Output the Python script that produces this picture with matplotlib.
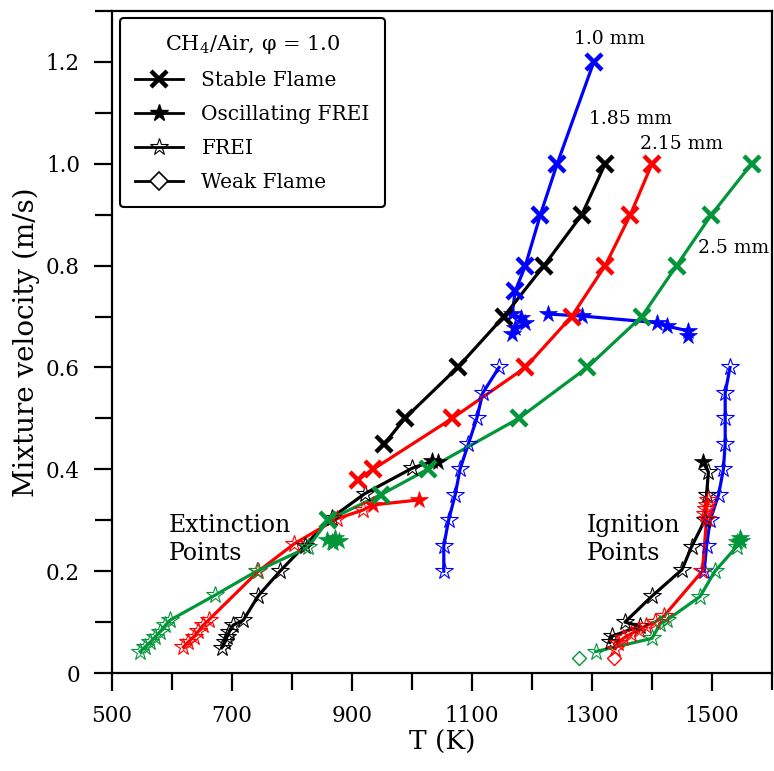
import matplotlib
matplotlib.use('Agg')
import matplotlib.pyplot as plt
from matplotlib.lines import Line2D
from matplotlib.ticker import MultipleLocator, FuncFormatter

plt.rcParams['font.family'] = ['DejaVu Serif']
plt.rcParams['mathtext.fontset'] = 'dejavuserif'

BLUE = '#0000ff'
BLACK = '#000000'
RED = '#ff0000'
GREEN = '#009639'

# ---- 1.0 mm (blue) ----
b_stable_T = [1303, 1242, 1214, 1189, 1172]
b_stable_v = [1.2, 1.0, 0.9, 0.8, 0.75]
b_osc_T = [1167, 1181, 1189, 1172, 1167]
b_osc_v = [0.705, 0.697, 0.687, 0.677, 0.665]
b_osc2_T = [1226, 1284, 1408, 1425, 1460, 1460]
b_osc2_v = [0.705, 0.701, 0.688, 0.681, 0.672, 0.662]
b_ext_T = [1145, 1118, 1108, 1094, 1080, 1072, 1061, 1053, 1053]
b_ext_v = [0.6, 0.55, 0.5, 0.45, 0.4, 0.35, 0.3, 0.25, 0.2]
b_ign_T = [1487, 1491, 1497, 1511, 1519, 1522, 1522, 1522, 1530]
b_ign_v = [0.2, 0.25, 0.3, 0.35, 0.4, 0.45, 0.5, 0.55, 0.6]

# ---- 1.85 mm (black) ----
k_stable_T = [1322, 1283, 1220, 1153, 1076, 988, 954]
k_stable_v = [1.0, 0.9, 0.8, 0.7, 0.6, 0.5, 0.45]
k_osc_T = [1043, 1034]
k_osc_v = [0.414, 0.416]
k_ext_T = [1000, 921, 866, 821, 780, 744, 719, 702, 695, 691, 688, 683]
k_ext_v = [0.402, 0.352, 0.305, 0.25, 0.2, 0.152, 0.104, 0.094, 0.08, 0.07, 0.06, 0.05]
k_iosc_T = [1485]
k_iosc_v = [0.414]
k_ign_T = [1494, 1491, 1488, 1466, 1450, 1400, 1355, 1380, 1333, 1330]
k_ign_v = [0.395, 0.35, 0.30, 0.248, 0.203, 0.151, 0.1, 0.092, 0.072, 0.06]

# ---- 2.15 mm (red) ----
r_stable_T = [1400, 1364, 1322, 1266, 1189, 1067, 935, 910]
r_stable_v = [1.0, 0.9, 0.8, 0.7, 0.6, 0.5, 0.4, 0.38]
r_osc_T = [1012, 935]
r_osc_v = [0.34, 0.33]
r_ext_T = [918, 875, 804, 744, 661, 652, 644, 636, 627, 619]
r_ext_v = [0.32, 0.303, 0.254, 0.2, 0.104, 0.094, 0.082, 0.071, 0.061, 0.051]
r_ign_T = [1494, 1492, 1490, 1489, 1491, 1484, 1420, 1405, 1390, 1378, 1365, 1352, 1343, 1339]
r_ign_v = [0.34, 0.33, 0.322, 0.313, 0.303, 0.2, 0.112, 0.1, 0.093, 0.085, 0.077, 0.068, 0.058, 0.048]
r_weak_T = [1336]
r_weak_v = [0.03]

# ---- 2.5 mm (green) ----
g_stable_T = [1566, 1499, 1441, 1383, 1292, 1178, 1026, 948, 860]
g_stable_v = [1.0, 0.9, 0.8, 0.7, 0.6, 0.5, 0.4, 0.35, 0.3]
g_ext_T = [827, 741, 672, 597, 589, 580, 572, 564, 555, 547]
g_ext_v = [0.247, 0.2, 0.153, 0.104, 0.094, 0.081, 0.071, 0.061, 0.051, 0.042]
g_osc_T = [858, 866, 872, 878, 868]
g_osc_v = [0.262, 0.258, 0.265, 0.26, 0.255]
g_iosc_T = [1546, 1542, 1548]
g_iosc_v = [0.265, 0.258, 0.26]
g_ign_T = [1541, 1505, 1480, 1425, 1414, 1400, 1306]
g_ign_v = [0.248, 0.2, 0.15, 0.104, 0.097, 0.068, 0.042]
g_weak_T = [1278]
g_weak_v = [0.03]

x_major = [500, 700, 900, 1100, 1300, 1500]

fig = plt.figure(figsize=(7.74, 7.71), dpi=100)
ax = fig.add_axes([0.1447, 0.1271, 0.8527, 0.8586])

LW = 2.3


def line(T, v, c):
    ax.plot(T, v, '-', color=c, lw=LW, zorder=2)


def stable(T, v, c):
    ax.plot(T, v, 'x', color=c, ms=11, mew=3.2, zorder=3)


def osc(T, v, c):
    ax.plot(T, v, '*', color=c, ms=13, mew=0.5, zorder=3)


def frei(T, v, c):
    ax.plot(T, v, '*', color=c, mfc='none', ms=13, mew=0.8, zorder=3)


def weak(T, v, c):
    ax.plot(T, v, 'D', color=c, mfc='none', ms=7, mew=1.0, zorder=3)


# blue
line(b_stable_T + b_osc_T, b_stable_v + b_osc_v, BLUE)
line(b_osc2_T, b_osc2_v, BLUE)
line(b_ext_T, b_ext_v, BLUE)
line(b_ign_T, b_ign_v, BLUE)
stable(b_stable_T, b_stable_v, BLUE)
osc(b_osc_T + b_osc2_T, b_osc_v + b_osc2_v, BLUE)
frei(b_ext_T, b_ext_v, BLUE)
frei(b_ign_T, b_ign_v, BLUE)

# black
line(k_stable_T, k_stable_v, BLACK)
line(k_osc_T + k_ext_T, k_osc_v + k_ext_v, BLACK)
line(k_iosc_T + k_ign_T, k_iosc_v + k_ign_v, BLACK)
stable(k_stable_T, k_stable_v, BLACK)
osc(k_osc_T, k_osc_v, BLACK)
frei(k_ext_T, k_ext_v, BLACK)
osc(k_iosc_T, k_iosc_v, BLACK)
frei(k_ign_T, k_ign_v, BLACK)

# red
line(r_stable_T, r_stable_v, RED)
line(r_osc_T + r_ext_T, r_osc_v + r_ext_v, RED)
line(r_ign_T, r_ign_v, RED)
stable(r_stable_T, r_stable_v, RED)
osc(r_osc_T, r_osc_v, RED)
frei(r_ext_T, r_ext_v, RED)
frei(r_ign_T, r_ign_v, RED)
weak(r_weak_T, r_weak_v, RED)

# green
line(g_stable_T + g_ext_T, g_stable_v + g_ext_v, GREEN)
line(g_iosc_T + g_ign_T, g_iosc_v + g_ign_v, GREEN)
stable(g_stable_T, g_stable_v, GREEN)
frei(g_ext_T, g_ext_v, GREEN)
osc(g_osc_T, g_osc_v, GREEN)
osc(g_iosc_T, g_iosc_v, GREEN)
frei(g_ign_T, g_ign_v, GREEN)
weak(g_weak_T, g_weak_v, GREEN)

# labels on the curves
ax.text(1330, 1.245, '1.0 mm', fontsize=13.5, ha='center', va='center')
ax.text(1364, 1.087, '1.85 mm', fontsize=13.5, ha='center', va='center')
ax.text(1450, 1.038, '2.15 mm', fontsize=13.5, ha='center', va='center')
ax.text(1476, 0.834, '2.5 mm', fontsize=13.5, ha='left', va='center')
ax.text(595, 0.262, 'Extinction\nPoints', fontsize=17, ha='left', va='center', linespacing=1.3)
ax.text(1292, 0.262, 'Ignition\nPoints', fontsize=17, ha='left', va='center', linespacing=1.3)

ax.set_xlim(500, 1600)
ax.set_ylim(0, 1.3)
ax.set_xticks(x_major)
ax.xaxis.set_minor_locator(MultipleLocator(100))
ax.yaxis.set_major_locator(MultipleLocator(0.2))
ax.yaxis.set_minor_locator(MultipleLocator(0.1))
ax.yaxis.set_major_formatter(FuncFormatter(lambda y, p: '0' if abs(y) < 1e-9 else '%.1f' % y))
ax.tick_params(which='both', direction='out', width=1.6, labelsize=15.5)
ax.tick_params(which='major', length=13, pad=10)
ax.tick_params(which='minor', length=12)
for s in ax.spines.values():
    s.set_linewidth(1.6)

ax.set_xlabel('T (K)', fontsize=19, labelpad=2)
ax.set_ylabel('Mixture velocity (m/s)', fontsize=20, labelpad=4)

handles = [
    Line2D([], [], color='k', lw=2, marker='x', ms=11, mew=3.2),
    Line2D([], [], color='k', lw=2, marker='*', ms=13),
    Line2D([], [], color='k', lw=2, marker='*', ms=13, mfc='none', mew=0.8),
    Line2D([], [], color='k', lw=2, marker='D', ms=9, mfc='white', mew=1.2),
]
names = ['Stable Flame', 'Oscillating FREI', 'FREI', 'Weak Flame']
leg = ax.legend(handles, names, title='CH$_4$/Air, φ = 1.0', loc='upper left',
                bbox_to_anchor=(0.012, 0.99), borderaxespad=0, fontsize=14.5,
                title_fontsize=15, frameon=True, fancybox=True, handlelength=2.4,
                labelspacing=0.75, handletextpad=0.9, borderpad=0.75)
leg.get_frame().set_edgecolor('black')
leg.get_frame().set_linewidth(1.5)
leg.get_frame().set_alpha(1)

fig.savefig('out.png', dpi=100)
